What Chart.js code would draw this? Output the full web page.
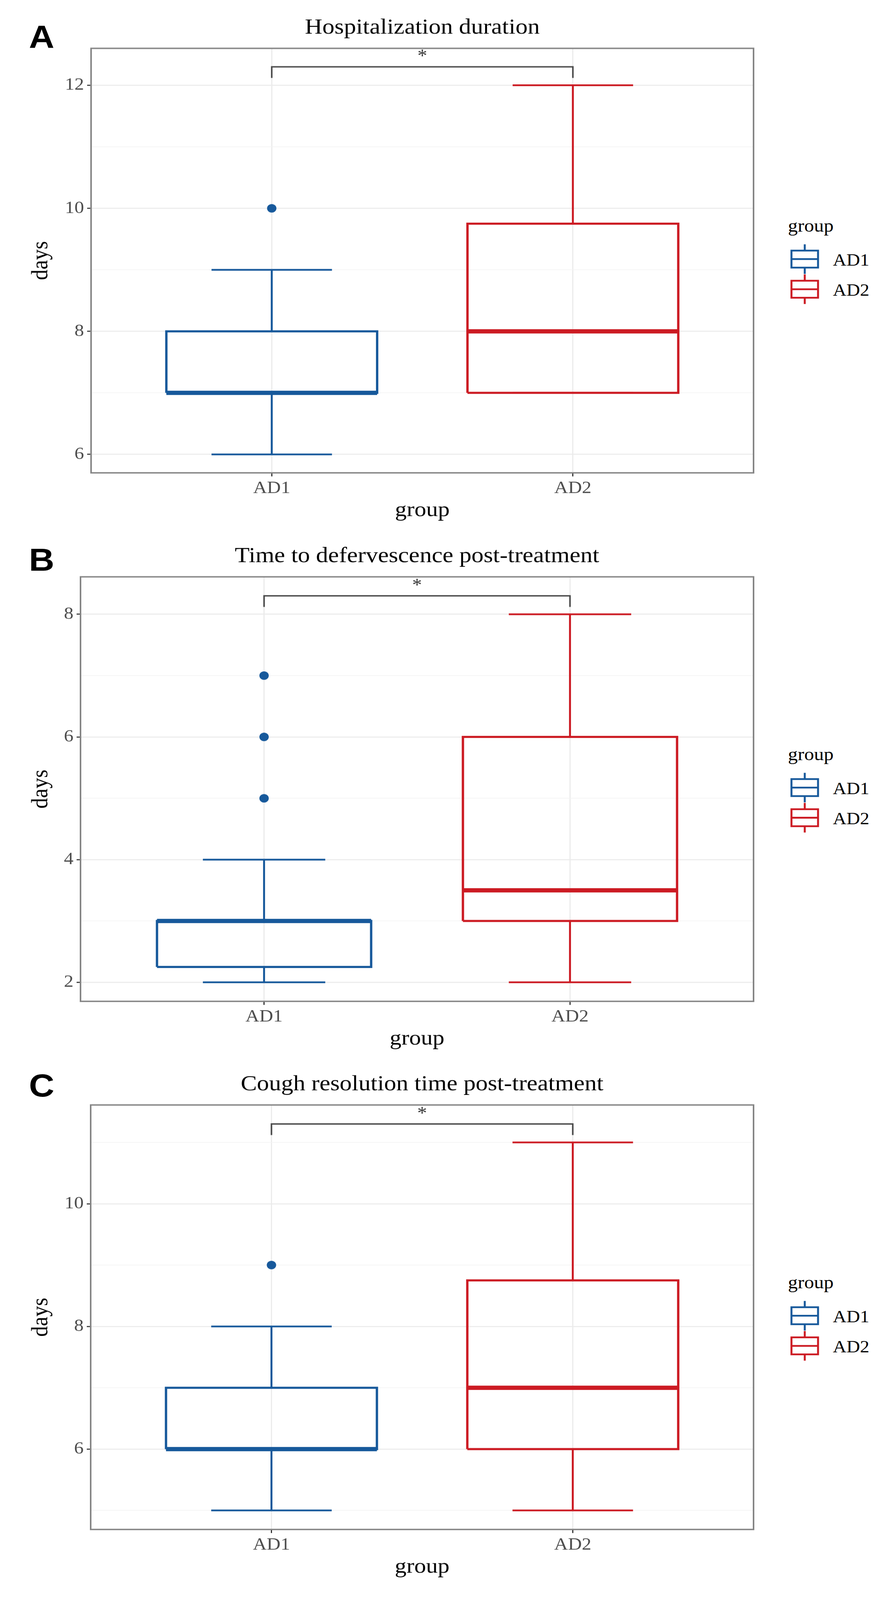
<!DOCTYPE html>
<html>
<head>
<meta charset="utf-8">
<script src="https://cdn.jsdelivr.net/npm/chart.js@4.4.1/dist/chart.umd.min.js"></script>
<style>
  body { margin: 0; background: #fff; overflow: hidden; }
  #fig { position: absolute; left: 0; top: 0; width: 2272px; height: 4514px; transform-origin: 0 0; background: #fff; }
  .panel { position: absolute; left: 0; }
  .tag { position: absolute; font-family: "Liberation Sans", sans-serif; font-weight: 900; font-size: 90px; line-height: 90px; color: #000; }
  .lg { position: absolute; font-family: "Liberation Serif", serif; color: #000; transform: translateY(-50%); white-space: nowrap; }
  .key { position: absolute; transform: translateY(-50%); }
</style>
</head>
<body>
<div id="fig"></div>
<script>
"use strict";

// 群の名前
const categories = ['AD1', 'AD2'];

// A: 入院期間 (最小, Q1, 中央値, Q3, 最大, 外れ値)
const hospMin = [6, 7];
const hospQ1 = [7, 7];
const hospMed = [7, 8];
const hospQ3 = [8, 9.75];
const hospMax = [9, 12];
const hospOut = [[10], []];
const hospTicks = [6, 8, 10, 12];
const hospMinor = [7, 9, 11];

// B: 解熱までの時間
const fevMin = [2, 2];
const fevQ1 = [2.25, 3];
const fevMed = [3, 3.5];
const fevQ3 = [3, 6];
const fevMax = [4, 8];
const fevOut = [[5, 6, 7], []];
const fevTicks = [2, 4, 6, 8];
const fevMinor = [3, 5, 7];

// C: 咳の消失時間
const coughMin = [5, 5];
const coughQ1 = [6, 6];
const coughMed = [6, 7];
const coughQ3 = [7, 8.75];
const coughMax = [8, 11];
const coughOut = [[9], []];
const coughTicks = [6, 8, 10];
const coughMinor = [5, 7, 9, 11];

// 有意差の表示
const sigHeight = [12.3, 8.3, 11.3];
const sigLabel = ['*', '*', '*'];

const panelTitles = ['Hospitalization duration', 'Time to defervescence post-treatment', 'Cough resolution time post-treatment'];
const panelTags = ['A', 'B', 'C'];

// 見た目の設定
const groupColors = ['#17599b', '#cc1b23'];
const panelTop = [0, 1491, 2981];
const plotLeft = [233, 206, 232];
const yRange = [[5.7, 12.6], [1.69, 8.61], [4.69, 11.61]];
const tagTop = [59, 1534, 3018];
const boxHalf = 0.35;
const capHalf = 0.2;

const fig = document.getElementById('fig');
// ウィンドウが図より低い場合は全体が入るように縦方向を合わせる
const fitScale = Math.min(1, window.innerHeight / 4514);
fig.style.transform = 'scale(1, ' + fitScale + ')';

Chart.defaults.font.family = '"Liberation Serif", "Times New Roman", serif';

function boxDatasets(mins, q1s, meds, q3s, maxs, outs, sig) {
	const ds = [];
	categories.forEach((c, i) => {
		const p = i + 1;
		const col = groupColors[i];
		const seg = (pts, w) => ds.push({
			data: pts.map(([x, y]) => ({ x: x, y: y })),
			showLine: true, borderColor: col, borderWidth: w,
			pointRadius: 0, fill: false, borderJoinStyle: 'miter'
		});
		// ひげ
		seg([[p, q3s[i]], [p, maxs[i]]], 5);
		seg([[p, mins[i]], [p, q1s[i]]], 5);
		seg([[p - capHalf, maxs[i]], [p + capHalf, maxs[i]]], 5);
		seg([[p - capHalf, mins[i]], [p + capHalf, mins[i]]], 5);
		// 箱
		seg([[p - boxHalf, q1s[i]], [p + boxHalf, q1s[i]], [p + boxHalf, q3s[i]], [p - boxHalf, q3s[i]], [p - boxHalf, q1s[i]]], 6);
		// 中央値
		seg([[p - boxHalf, meds[i]], [p + boxHalf, meds[i]]], 12);
		if (outs[i].length) {
			ds.push({
				data: outs[i].map(v => ({ x: p, y: v })),
				showLine: false, pointRadius: 12, pointHoverRadius: 12,
				backgroundColor: col, borderWidth: 0
			});
		}
	});
	// 有意差のブラケット
	ds.push({
		data: [{ x: 1, y: sig - 0.18 }, { x: 1, y: sig }, { x: 2, y: sig }, { x: 2, y: sig - 0.18 }],
		showLine: true, borderColor: '#4a4a4a', borderWidth: 4, pointRadius: 0, fill: false
	});
	return ds;
}

// パネルの枠線と * 印
const panelPlugin = {
	id: 'panelDeco',
	afterDatasetsDraw(chart, args, opts) {
		const ctx = chart.ctx;
		const a = chart.chartArea;
		ctx.save();
		ctx.strokeStyle = '#858585';
		ctx.lineWidth = 4;
		ctx.strokeRect(a.left, a.top, a.right - a.left, a.bottom - a.top);
		ctx.fillStyle = '#333';
		ctx.font = '50px "Liberation Serif", serif';
		ctx.textAlign = 'center';
		ctx.textBaseline = 'middle';
		const x = chart.scales.x.getPixelForValue(1.5);
		const y = chart.scales.y.getPixelForValue(opts.sig + 0.22);
		ctx.fillText(opts.label, x, y + 10);
		ctx.restore();
	}
};

function makePanel(k, mins, q1s, meds, q3s, maxs, outs, majors, minors) {
	const div = document.createElement('div');
	div.className = 'panel';
	div.style.top = panelTop[k] + 'px';
	const canvas = document.createElement('canvas');
	canvas.width = 1960;
	canvas.height = 1490;
	div.appendChild(canvas);
	fig.appendChild(div);

	new Chart(canvas.getContext('2d'), {
		type: 'scatter',
		data: { datasets: boxDatasets(mins, q1s, meds, q3s, maxs, outs, sigHeight[k]) },
		plugins: [panelPlugin],
		options: {
			responsive: false,
			animation: false,
			events: [],
			layout: { padding: { left: 0, right: 32, top: 0, bottom: 0 } },
			plugins: {
				legend: { display: false },
				tooltip: { enabled: false },
				title: {
					display: true,
					text: panelTitles[k],
					fullSize: false,
					color: '#000',
					font: { size: 62, weight: 'normal' },
					padding: { top: 42, bottom: 20 }
				},
				panelDeco: { sig: sigHeight[k], label: sigLabel[k] }
			},
			scales: {
				x: {
					type: 'linear',
					min: 0.4,
					max: 2.6,
					afterBuildTicks: s => { s.ticks = categories.map((c, i) => ({ value: i + 1 })); },
					afterFit: s => { s.height = 156; },
					ticks: {
						callback: v => categories[v - 1],
						color: '#4d4d4d',
						font: { size: 49 },
						padding: 5,
						maxRotation: 0
					},
					grid: { color: '#ebebeb', lineWidth: 3, tickLength: 10, tickWidth: 3, tickColor: '#333' },
					border: { display: false },
					title: { display: true, text: 'group', color: '#000', font: { size: 60 }, padding: { top: 0, bottom: 14 } }
				},
				y: {
					type: 'linear',
					min: yRange[k][0],
					max: yRange[k][1],
					afterBuildTicks: s => {
						const t = majors.map(v => ({ value: v })).concat(minors.map(v => ({ value: v, minor: true })));
						t.sort((p, q) => p.value - q.value);
						s.ticks = t;
					},
					afterFit: s => { s.width = plotLeft[k]; },
					ticks: {
						callback: (v, i, t) => (t[i] && t[i].minor ? '' : String(v)),
						color: '#4d4d4d',
						font: { size: 49 },
						padding: 8
					},
					grid: {
						color: c => (c.tick && c.tick.minor ? '#f4f4f4' : '#ebebeb'),
						lineWidth: c => (c.tick && c.tick.minor ? 2 : 3),
						tickColor: c => (c.tick && c.tick.minor ? 'rgba(0,0,0,0)' : '#333'),
						tickLength: 10,
						tickWidth: 3
					},
					border: { display: false },
					title: { display: true, text: 'days', color: '#000', font: { size: 60 }, padding: { top: 69, bottom: 0 } }
				}
			}
		}
	});

	// パネルのラベル
	const tag = document.createElement('div');
	tag.className = 'tag';
	tag.style.left = '74px';
	tag.style.top = tagTop[k] + 'px';
	tag.textContent = panelTags[k];
	fig.appendChild(tag);

	// 凡例
	const mid = panelTop[k] + 735;
	const ttl = document.createElement('div');
	ttl.className = 'lg';
	ttl.style.left = '2016px';
	ttl.style.top = (mid - 98) + 'px';
	ttl.style.fontSize = '50px';
	ttl.textContent = 'group';
	fig.appendChild(ttl);
	categories.forEach((c, i) => {
		const cy = mid - 2 + i * 85;
		const col = groupColors[i];
		const key = document.createElement('div');
		key.className = 'key';
		key.style.left = '2022px';
		key.style.top = cy + 'px';
		key.innerHTML = '<svg width="74" height="84" xmlns="http://www.w3.org/2000/svg">' +
			'<line x1="37" y1="0" x2="37" y2="18" stroke="' + col + '" stroke-width="5"/>' +
			'<rect x="3" y="18" width="68" height="48" fill="#fff" stroke="' + col + '" stroke-width="5"/>' +
			'<line x1="3" y1="42" x2="71" y2="42" stroke="' + col + '" stroke-width="5"/>' +
			'<line x1="37" y1="66" x2="37" y2="84" stroke="' + col + '" stroke-width="5"/></svg>';
		fig.appendChild(key);
		const lab = document.createElement('div');
		lab.className = 'lg';
		lab.style.left = '2131px';
		lab.style.top = cy + 'px';
		lab.style.fontSize = '48px';
		lab.textContent = c;
		fig.appendChild(lab);
	});
}

makePanel(0, hospMin, hospQ1, hospMed, hospQ3, hospMax, hospOut, hospTicks, hospMinor);
makePanel(1, fevMin, fevQ1, fevMed, fevQ3, fevMax, fevOut, fevTicks, fevMinor);
makePanel(2, coughMin, coughQ1, coughMed, coughQ3, coughMax, coughOut, coughTicks, coughMinor);
</script>
</body>
</html>
